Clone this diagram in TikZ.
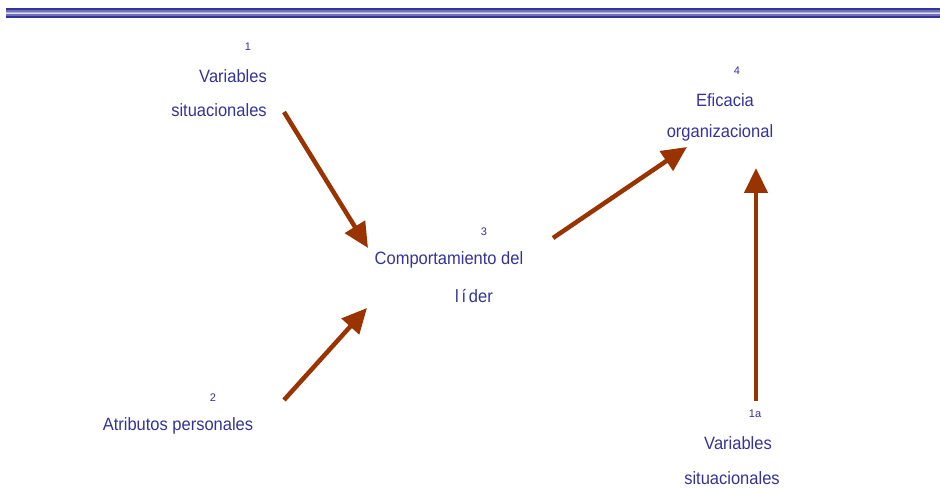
\documentclass[tikz,border=0pt]{standalone}
\usepackage{fontspec}
\setmainfont{Liberation Sans}
\usetikzlibrary{arrows.meta}
\definecolor{textblue}{HTML}{333399}
\definecolor{arrowbrown}{HTML}{993300}
\begin{document}
\begin{tikzpicture}
        [x=1pt, y=-1pt,
         label_style/.style={text=textblue,font=\fontsize{16.5}{18}\selectfont,inner sep=0pt,yscale=1.08},
         num_style/.style={text=textblue,font=\fontsize{11}{12}\selectfont,inner sep=0pt},
         arrow_style/.style={draw=arrowbrown,line width=4.5pt,-{Triangle[length=25pt,width=23pt]}}]
            \useasboundingbox (0,0) rectangle (940,489);
            % top bar
            \fill[textblue] (6,8.5) rectangle (940,18);
            \fill[textblue!70] (6,10.5) rectangle (940,16);
            \fill[textblue!40] (6,12) rectangle (940,14.5);
            \fill[textblue!15] (6,13) rectangle (940,13.8);
            % labels
            \node[num_style] (n1) at (248, 47) {1};
            \node[label_style] (v1a) at (233, 76) {Variables};
            \node[label_style] (v1b) at (219, 110) {situacionales};
            \node[num_style] (n2) at (213, 398) {2};
            \node[label_style] (v2) at (178, 426) {Atributos personales};
            \node[num_style] (n3) at (484, 232) {3};
            \node[label_style] (v3a) at (449, 260) {Comportamiento del};
            \node[label_style] (v3b) at (474, 296) {l\,í\,der};
            \node[num_style] (n4) at (737, 71) {4};
            \node[label_style] (v4a) at (725, 100) {Eficacia};
            \node[label_style] (v4b) at (720, 133) {organizacional};
            \node[num_style] (n5) at (755, 414) {1a};
            \node[label_style] (v5a) at (738, 443) {Variables};
            \node[label_style] (v5b) at (732, 478) {situacionales};
            % arrow ends
            \coordinate (a1s) at (284, 112);
            \coordinate (a1e) at (368, 248);
            \coordinate (a2s) at (284, 400);
            \coordinate (a2e) at (367, 308);
            \coordinate (a3s) at (553, 238);
            \coordinate (a3e) at (687, 147);
            \coordinate (a4s) at (756, 401);
            \coordinate (a4e) at (756, 168);
            \draw[arrow_style] (a1s) -- (a1e);
            \draw[arrow_style] (a2s) -- (a2e);
            \draw[arrow_style] (a3s) -- (a3e);
            \draw[arrow_style] (a4s) -- (a4e);
        \end{tikzpicture}
\end{document}
